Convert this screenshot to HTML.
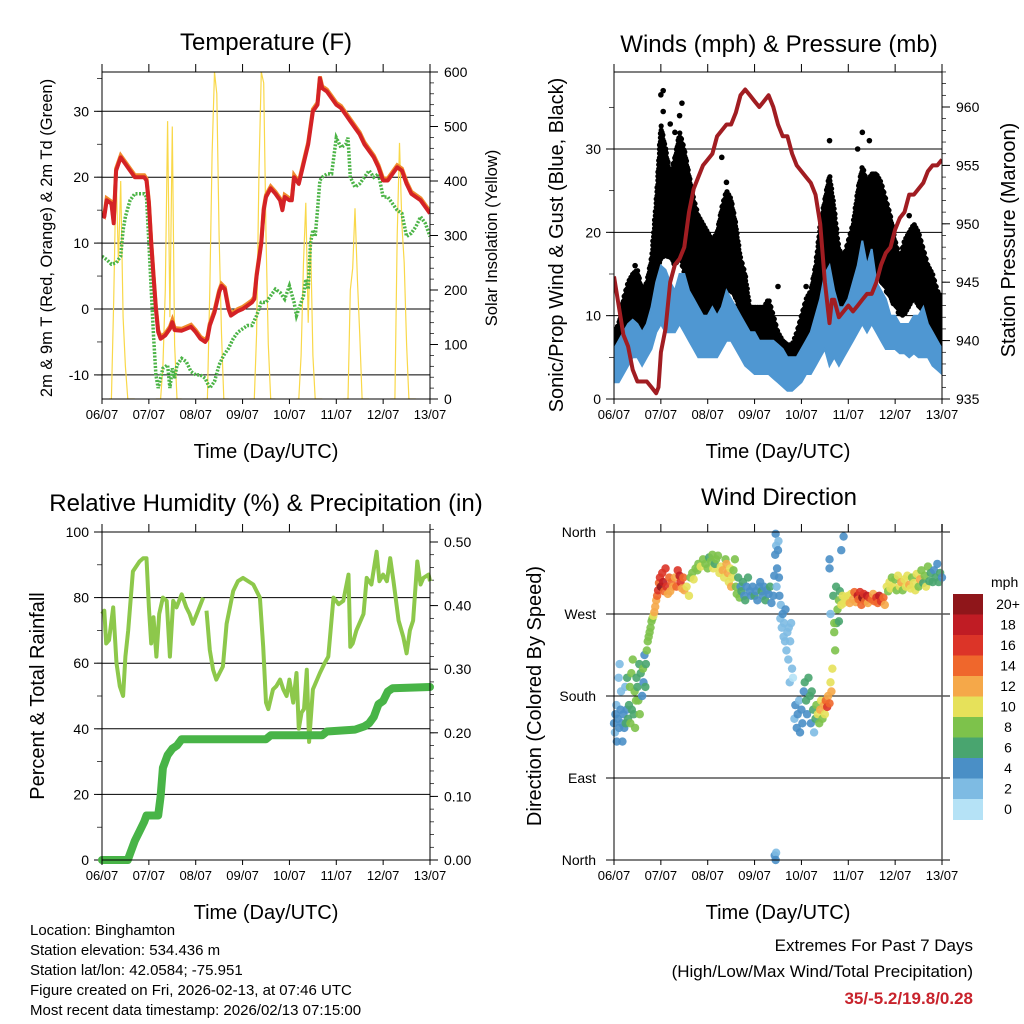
<!DOCTYPE html>
<html><head><meta charset="utf-8">
<style>
html,body{margin:0;padding:0;background:#fff;}
svg{display:block;font-family:"Liberation Sans",sans-serif;}
</style></head>
<body>
<svg id="fig" width="1024" height="1024" viewBox="0 0 1024 1024" xmlns="http://www.w3.org/2000/svg">
<rect width="1024" height="1024" fill="#fff"/>
<text x="266" y="50" font-size="24" text-anchor="middle">Temperature (F)</text>
<text x="779" y="52" font-size="24" text-anchor="middle">Winds (mph) &amp; Pressure (mb)</text>
<text x="266" y="511" font-size="24" text-anchor="middle">Relative Humidity (%) &amp; Precipitation (in)</text>
<text x="779" y="505" font-size="24" text-anchor="middle">Wind Direction</text>
<g font-size="15">
<text x="30" y="935">Location: Binghamton</text>
<text x="30" y="955">Station elevation: 534.436 m</text>
<text x="30" y="975">Station lat/lon: 42.0584; -75.951</text>
<text x="30" y="995">Figure created on Fri, 2026-02-13, at 07:46 UTC</text>
<text x="30" y="1015">Most recent data timestamp: 2026/02/13 07:15:00</text>
</g>
<g font-size="17" text-anchor="end">
<text x="973" y="951">Extremes For Past 7 Days</text>
<text x="973" y="977">(High/Low/Max Wind/Total Precipitation)</text>
<text x="973" y="1004" fill="#c8232c" font-weight="bold">35/-5.2/19.8/0.28</text>
</g>
</svg>
<script>
// ---------- DATA ----------
const dayLabels = ["06/07","07/07","08/07","09/07","10/07","11/07","12/07","13/07"];
const tempTime = [0,0.05,0.1,0.2,0.25,0.3,0.4,0.5,0.6,0.7,0.8,0.9,0.95,1.0,1.05,1.1,1.15,1.2,1.25,1.35,1.45,1.5,1.55,1.7,1.8,1.9,2.0,2.1,2.2,2.25,2.3,2.4,2.5,2.55,2.62,2.7,2.75,2.9,3.0,3.1,3.2,3.25,3.3,3.4,3.45,3.5,3.6,3.7,3.8,3.85,3.9,4.0,4.05,4.1,4.2,4.3,4.4,4.5,4.6,4.65,4.7,4.8,4.9,5.0,5.1,5.2,5.3,5.4,5.5,5.6,5.7,5.8,5.9,6.0,6.1,6.2,6.3,6.4,6.5,6.6,6.7,6.8,6.9,7.0];
const tempValues = [14.5,14,16.5,16,13,21,23,22,21,20,20,20,19.5,16,10,5,0,-3.5,-4.5,-4,-3,-2,-3.2,-3.3,-3,-2.7,-3.5,-4.5,-5,-4.5,-2.5,-0.5,2.5,3.5,3,0,-1,-0.3,0,0.5,1,1.5,5,10,15,17,18.3,17.5,16.5,15,17,16.5,16.5,20,19,22,25,30,31,35,33.5,33,32,31,30.5,29.5,28.5,27.5,26.5,25,24,23,21.5,19.5,19.5,20.5,21.5,21,19,17.5,17,16.5,15.5,14.5];
const dewTime = [0,0.1,0.2,0.3,0.4,0.45,0.5,0.6,0.7,0.8,0.9,0.95,1.0,1.05,1.1,1.15,1.2,1.3,1.4,1.45,1.5,1.55,1.6,1.7,1.8,1.9,2.0,2.1,2.2,2.3,2.4,2.5,2.6,2.7,2.8,2.9,3.0,3.1,3.2,3.3,3.4,3.5,3.6,3.7,3.8,3.9,4.0,4.1,4.15,4.2,4.3,4.35,4.4,4.45,4.5,4.55,4.6,4.65,4.7,4.8,4.9,5.0,5.1,5.2,5.25,5.3,5.4,5.5,5.6,5.7,5.8,5.9,6.0,6.1,6.2,6.3,6.4,6.5,6.6,6.7,6.8,6.9,7.0];
const dewValues = [8,7.5,6.8,7,8,12,14,16.5,17.5,17.5,17.5,17,10,3,-4,-10,-12,-9,-8.5,-12,-9,-10.5,-8.5,-7.5,-8,-9.5,-10,-10,-10.5,-12,-11,-8.5,-7,-6,-4.5,-3.5,-3,-2.5,-2.5,-1,1,1,2,3,2.5,1.5,3.5,1,-1,0,2,4.5,3,10,12,11,15,19.5,20,20.5,20.5,26,24.5,25,26,20,18.5,19,20,21,20,20.5,17,17,16,15,14.5,11,11.5,12.5,14,13,11];
const solarDayStart = [0,1,2,3,4,5,6];
const solarOffsets = [0.15,0.2,0.25,0.3,0.35,0.4,0.45,0.5,0.55,0.6,0.65,0.7];
const solarByDay = [
 [0,0,180,420,250,400,150,60,0,0,0,0],
 [0,0,0,60,200,510,150,500,100,0,0,0],
 [0,0,0,200,450,600,560,300,120,0,0,0],
 [0,0,0,120,420,600,580,300,100,0,0,0],
 [0,0,80,250,360,140,300,80,0,0,0,0],
 [0,0,0,200,240,350,220,120,0,0,0,0],
 [0,0,0,300,470,320,250,100,0,0,0,0]
];
const windTime = [0,0.1,0.2,0.3,0.4,0.5,0.6,0.7,0.8,0.9,1.0,1.1,1.2,1.3,1.4,1.5,1.6,1.7,1.8,1.9,2.0,2.1,2.2,2.3,2.4,2.5,2.6,2.7,2.8,2.9,3.0,3.1,3.2,3.3,3.4,3.5,3.6,3.7,3.8,3.9,4.0,4.1,4.2,4.3,4.4,4.5,4.6,4.7,4.8,4.9,5.0,5.1,5.2,5.3,5.4,5.5,5.6,5.7,5.8,5.9,6.0,6.1,6.2,6.3,6.4,6.5,6.6,6.7,6.8,6.9,7.0];
const windHi = [6,7,8,9,9.5,9,8,9,11,14,16,15.5,14,13,15,15,13,12,11,10,10,11,10,11,13,12,11,10,9,8,8,7,7,7,7,6.5,6,5,5,5,6,7,8,10,12,15,16,13,11,11,12,14,16,19,16,18,14,13,12,10,10,9,9,9,10,10,11,9,8,7,6];
const windLo = [2,2,3,4,5,5,4,5,6,8,9,8,8,8,9,8,7,6,5,5,5,5,5,6,7,7,6,5,4,3.5,3,3,3,3,2.5,2,1.5,1,1,1.5,2,3,3,4,5,6,4,5,4,5,6,7,8,9,8,9,8,7,6,6,6,5.5,5.5,5,5.5,5,5,5,4,3.5,3];
const gustHi = [8,9,12,14,15,15.5,13,14,17,24,33,30,27,29,32,30,27,24,22,21,20,19,20,23,25,24,21,17,15,11,11,11,11,12,10,8,7,6.5,6.5,8,10,12,13,16,21,24,27,23,18,17,19,21,25,28,26,27,27,26,24,22,19,17,19,20,21,20,18,16,15,13,12];
const gustLo = [4,5,6,8,9,9,7,8,10,13,17,17,17,16,17,15,13,12,10,10,10,10,10,11,13,13,12,10,8,6,6,6,6,6,5,4,3.5,3,3,4,5,6,7,8,10,12,12,10,10,10,11,13,15,16,17,16,15,14,13,12,11,10,10,11,12,11,10,9,8,7,6];
const gustOutT = [1.0,1.05,1.45,1.2,1.3,1.05,2.3,4.6,5.3,5.45,3.5,4.1,1.1,1.4,2.4,5.2,0.45,6.3];
const gustOutV = [36.5,37,35.5,33,32,34.5,29,31,32,31,13.5,13.5,30,34,26,30,16,22];
const presTime = [0,0.1,0.2,0.3,0.4,0.5,0.6,0.7,0.8,0.9,0.95,1.0,1.1,1.2,1.3,1.4,1.5,1.6,1.7,1.8,1.9,2.0,2.1,2.2,2.3,2.4,2.5,2.6,2.7,2.8,2.9,3.0,3.1,3.2,3.3,3.4,3.5,3.6,3.7,3.8,3.9,4.0,4.1,4.2,4.3,4.4,4.5,4.6,4.65,4.7,4.8,4.9,5.0,5.1,5.2,5.3,5.4,5.5,5.6,5.7,5.8,5.9,6.0,6.1,6.2,6.3,6.4,6.5,6.6,6.7,6.8,6.9,7.0];
const presValues = [945.5,943,940.5,939.5,937.5,936.5,936.5,936.5,936,935.5,936,939,941,945,946.5,947,948,951,953,954,955,955.5,956,957.5,958,958.5,958.5,959.5,961,961.5,961,960.5,960,960.5,961,960,958.5,957.5,957.5,956,955,954.5,954,953.5,952.5,950,945,941.5,943.5,943.5,942,942.5,943,942.5,943,943.5,944,944,945,946.5,947.5,948,949.5,950.5,951,952.5,952.5,953,953.5,954.5,955,955,955.5];
const rhTime = [0,0.05,0.09,0.15,0.24,0.31,0.38,0.45,0.5,0.56,0.66,0.8,0.88,0.95,1.0,1.05,1.1,1.16,1.22,1.3,1.38,1.45,1.52,1.59,1.7,1.8,1.87,1.94,2.05,2.16,2.23,2.3,2.37,2.44,2.51,2.58,2.66,2.8,2.9,3.01,3.23,3.37,3.44,3.5,3.55,3.65,3.72,3.8,3.87,3.94,4.0,4.08,4.15,4.2,4.26,4.31,4.37,4.42,4.5,4.65,4.75,4.83,4.94,5.05,5.15,5.26,5.3,5.35,5.43,5.58,5.65,5.75,5.86,5.92,6.0,6.08,6.15,6.22,6.33,6.43,6.5,6.57,6.64,6.73,6.8,6.86,6.97,7.0];
const rhValues = [75,76,66,67,77,60,53,50,62,70,88,91,92,92,77,66,74,62,75,80,79,62,79,77,81,77,75,72,76,80,76,64,58,55,57,59,72,82,85,86,84,80,65,48,46,52,53,55,52,50,55,48,57,40,45,46,58,36,52,57,60,62,80,78,79,87,65,66,70,75,86,84,94,85,87,85,92,85,73,68,63,70,73,91,84,86,87,85];
const rainTime = [0,0.55,0.6,0.7,0.8,0.9,0.95,1.2,1.25,1.3,1.4,1.5,1.6,1.7,1.8,3.5,3.6,4.7,4.8,5.4,5.6,5.7,5.8,5.9,6.0,6.1,6.2,7.0];
const rainValues = [0,0,0.01,0.03,0.045,0.06,0.07,0.07,0.1,0.145,0.165,0.175,0.18,0.19,0.19,0.19,0.196,0.196,0.202,0.205,0.21,0.215,0.225,0.245,0.25,0.265,0.27,0.272];
const wdTime = [0.00,0.02,0.03,0.05,0.06,0.08,0.10,0.11,0.12,0.14,0.15,0.17,0.18,0.2,0.22,0.24,0.25,0.27,0.28,0.3,0.32,0.34,0.35,0.37,0.38,0.4,0.42,0.44,0.45,0.47,0.48,0.5,0.52,0.54,0.55,0.57,0.6,0.62,0.63,0.65,0.67,0.68,0.7,0.72,0.74,0.76,0.78,0.8,0.82,0.84,0.86,0.88,0.9,0.92,0.94,0.96,0.98,1.0,1.03,1.05,1.07,1.1,1.12,1.15,1.18,1.2,1.23,1.26,1.3,1.33,1.36,1.4,1.42,1.45,1.48,1.5,1.55,1.6,1.63,1.67,1.7,1.74,1.78,1.8,1.85,1.9,1.95,2.0,2.03,2.07,2.1,2.12,2.15,2.18,2.22,2.25,2.28,2.32,2.35,2.38,2.4,2.43,2.45,2.48,2.5,2.52,2.55,2.58,2.6,2.62,2.65,2.68,2.7,2.72,2.75,2.78,2.8,2.83,2.86,2.9,2.93,2.96,3.0,3.03,3.06,3.1,3.12,3.15,3.18,3.2,3.23,3.26,3.3,3.33,3.36,3.4,3.42,3.44,3.45,3.46,3.47,3.48,3.5,3.51,3.52,3.53,3.55,3.56,3.58,3.6,3.62,3.63,3.65,3.66,3.68,3.7,3.72,3.73,3.75,3.76,3.78,3.8,3.82,3.85,3.87,3.9,3.92,3.95,3.97,4.0,4.02,4.05,4.07,4.1,4.12,4.15,4.18,4.2,4.22,4.25,4.27,4.3,4.32,4.35,4.38,4.4,4.42,4.45,4.48,4.5,4.52,4.55,4.57,4.6,4.62,4.64,4.66,4.68,4.7,4.72,4.74,4.75,4.77,4.8,4.82,4.85,4.88,4.9,4.93,4.96,5.0,5.03,5.06,5.1,5.13,5.16,5.2,5.22,5.25,5.28,5.3,5.33,5.36,5.4,5.42,5.45,5.5,5.53,5.56,5.6,5.63,5.66,5.7,5.75,5.78,5.82,5.85,5.88,5.9,5.93,5.96,6.0,6.03,6.06,6.1,6.13,6.16,6.2,6.23,6.26,6.3,6.33,6.36,6.4,6.43,6.46,6.5,6.53,6.56,6.6,6.63,6.66,6.7,6.73,6.76,6.8,6.83,6.86,6.9,6.93,6.96,7.0,3.43,3.46,3.45,4.85,4.9,4.6,4.6,4.62,4.7,4.8];
const wdDir = [150,140,160,170,130,155,200,145,215,165,185,150,130,160,145,190,150,165,200,155,170,190,150,205,165,220,160,185,145,175,200,190,175,215,160,205,180,210,195,225,190,215,230,240,245,250,255,262,265,268,272,278,285,290,296,304,310,300,315,305,295,320,300,292,310,295,305,300,310,300,318,312,305,298,310,296,300,290,310,315,308,320,318,325,322,330,325,320,332,328,335,320,325,330,334,315,322,318,310,330,325,315,305,320,300,310,318,330,300,292,310,288,300,295,305,290,285,300,310,295,290,300,290,295,285,300,305,295,290,300,285,296,292,300,282,290,312,335,358,345,300,320,340,350,310,290,265,280,255,270,245,260,240,275,230,250,220,255,195,240,260,210,200,155,170,145,160,175,140,165,150,185,195,175,160,200,180,150,185,165,140,155,170,160,150,165,175,155,170,160,175,168,180,172,195,185,210,290,250,230,300,260,275,285,295,280,290,282,288,285,290,282,292,286,294,283,290,286,294,280,288,292,284,290,282,288,286,292,284,288,282,290,284,288,280,300,295,305,298,310,300,308,296,312,300,305,296,308,300,312,302,298,310,304,296,314,300,308,318,304,312,300,322,306,315,305,318,310,325,305,315,310,5,8,0,340,355,330,320,270,260,262];
const wdSpd = [3,2,4,2,3,4,2,4,2,3,2,4,4,4,3,2,6,4,6,6,6,7,7,7,6,7,6,8,7,7,6,5,7,5,8,5,4,7,4,4,5,6,7,7,7,7,7,8,8,10,11,12,12,14,16,14,15,19,15,17,13,15,16,12,14,11,14,12,12,14,16,18,15,12,14,11,9,10,8,8,10,7,8,8,9,8,7,8,6,7,8,9,6,8,7,10,10,11,10,8,11,12,10,9,11,10,7,7,7,8,6,7,4,5,6,4,6,4,5,4,4,3,6,4,3,4,3,5,4,3,5,4,3,6,4,4,3,3,3,2,2,4,3,2,4,3,2,2,2,4,2,2,2,4,2,2,1,2,2,2,2,2,0,2,4,4,4,2,4,4,4,4,6,6,4,6,6,4,6,6,2,6,8,10,8,12,10,8,12,10,14,16,12,14,10,12,10,6,8,8,6,6,7,8,6,9,10,10,9,10,10,12,10,12,14,12,18,14,16,14,20,16,14,18,12,16,14,12,14,16,14,18,16,14,12,10,8,10,10,8,10,8,8,10,10,12,8,10,10,10,11,10,8,10,9,10,8,12,8,6,8,10,8,6,6,6,4,6,4,5,5,4,4,2,4,4,4,4,4,2,8,6];
const speedTicks = ["0","2","4","6","8","10","12","14","16","18","20+"];
const speedColors = ["#b5e2f6","#7ebbe3","#4a8fc6","#49a56f","#7dc24b","#e6e15a","#f5a849","#ef672c","#dc3428","#c01c24","#8f161a"];

// ---------- HELPERS ----------
const NS = "http://www.w3.org/2000/svg";
const svg = document.getElementById("fig");
function mk(tag, attrs, parent){
  const e = document.createElementNS(NS, tag);
  for (const k in attrs) e.setAttribute(k, attrs[k]);
  (parent||svg).appendChild(e);
  return e;
}
function lin(d0,d1,r0,r1){ return v => r0 + (v-d0)*(r1-r0)/(d1-d0); }
function linePath(xs, ys, sx, sy){
  let d=""; for(let i=0;i<xs.length;i++){ d += (i?"L":"M")+sx(xs[i]).toFixed(1)+","+sy(ys[i]).toFixed(1); } return d;
}
function interp(xs, ys, t){
  for(let i=1;i<xs.length;i++){ if(t<=xs[i]){ const f=(t-xs[i-1])/(xs[i]-xs[i-1]); return ys[i-1]+f*(ys[i]-ys[i-1]); } }
  return ys[ys.length-1];
}

const X0=102, X1=430;
const sxL = lin(0,7,X0,X1);
const X0R=614, X1R=942;
const sxR = lin(0,7,X0R,X1R);

function frame(x0,x1,y0,y1,name){
  const r = mk("rect",{x:x0,y:y0,width:x1-x0,height:y1-y0,fill:"none",stroke:"#000","stroke-width":1});
  
  
}
function xAxis(sx,y0,y1,name,titleY){
  const g = mk("g",{});
  
  
  dayLabels.forEach((lab,i)=>{
    const x = sx(i);
    mk("line",{x1:x,y1:y1,x2:x,y2:y1+5,stroke:"#000"},g);
    mk("line",{x1:x,y1:y0,x2:x,y2:y0-8,stroke:"#000"},g);
    const t = mk("text",{x:x,y:y1+20,"font-size":13,"text-anchor":"middle"},g);
    t.textContent = lab;
    
    
  });
  if(titleY){
    const t = mk("text",{x:(sx(0)+sx(7))/2,y:titleY,"font-size":20,"text-anchor":"middle"});
    t.textContent = "Time (Day/UTC)";
    
    
  }
}
function yAxisLeft(x0,x1,sy,ticks,labels,minor,name,grid){
  const g = mk("g",{});
  
  
  minor.forEach(v=>{ mk("line",{x1:x0,y1:sy(v),x2:x0-5,y2:sy(v),stroke:"#000","stroke-width":0.7},g); });
  ticks.forEach((v,i)=>{
    const y = sy(v);
    if(grid) mk("line",{x1:x0,y1:y,x2:x1,y2:y,stroke:"#000","stroke-width":1},g);
    mk("line",{x1:x0-8,y1:y,x2:x0,y2:y,stroke:"#000"},g);
    const t = mk("text",{x:x0-13,y:y+5,"font-size":14,"text-anchor":"end"},g);
    t.textContent = labels[i];
    
    
  });
}
function yAxisRight(x1,sy,ticks,labels,minor,name){
  const g = mk("g",{});
  
  
  minor.forEach(v=>{ mk("line",{x1:x1,y1:sy(v),x2:x1+4,y2:sy(v),stroke:"#000","stroke-width":0.7},g); });
  ticks.forEach((v,i)=>{
    const y = sy(v);
    mk("line",{x1:x1,y1:y,x2:x1+8,y2:y,stroke:"#000"},g);
    const t = mk("text",{x:x1+14,y:y+5,"font-size":14},g);
    t.textContent = labels[i];
    
    
  });
}
function vTitle(x,y,txt,name,size){
  const t = mk("text",{x:x,y:y,"font-size":size||17,"text-anchor":"middle",transform:`rotate(-90 ${x} ${y})`});
  t.textContent = txt;
  
  
}
function range(a,b,s){ const r=[]; for(let v=a; v<=b+1e-9; v+=s) r.push(+v.toFixed(4)); return r; }

// ---------- PANEL 1: TEMPERATURE ----------
(function(){
  const y0=72,y1=399;
  const syS = lin(0,600,y1,y0);
  const clip = mk("clipPath",{id:"c1"}); mk("rect",{x:X0,y:y0,width:X1-X0,height:y1-y0},clip);
  const syT = v => 309 - v*6.59;
  yAxisLeft(X0,X1,syT,[-10,0,10,20,30],["-10","0","10","20","30"],range(-10,35,5),"temperature",true);
  yAxisRight(X1,syS,[0,100,200,300,400,500,600],["0","100","200","300","400","500","600"],range(0,600,20),"solar");
  const g = mk("g",{"clip-path":"url(#c1)"});
  
  
  solarByDay.forEach((vals,di)=>{
    const xs = solarOffsets.map(o=>solarDayStart[di]+o);
    const p = mk("path",{d:linePath(xs,vals,sxL,syS),fill:"none",stroke:"#f9d849","stroke-width":1.2},g);
    
    
  });
  const pd = mk("path",{d:linePath(dewTime,dewValues,sxL,syT),fill:"none",stroke:"#4cb447","stroke-width":3.5,"stroke-dasharray":"2 1.5"},g);
  
  
  const po = mk("path",{d:linePath(tempTime,tempValues.map(v=>v+0.3),sxL,syT),fill:"none",stroke:"#f08a2c","stroke-width":4},g);
  
  
  const pr = mk("path",{d:linePath(tempTime,tempValues,sxL,syT),fill:"none",stroke:"#d42226","stroke-width":4,"stroke-linejoin":"round"},g);
  
  
  frame(X0,X1,y0,y1,"temperature");
  xAxis(sxL,y0,y1,"temperature",458);
  vTitle(52,238,"2m & 9m T (Red, Orange) & 2m Td (Green)","temperature-y-axis-title",16.5);
  vTitle(497,238,"Solar Insolation (Yellow)","solar-y-axis-title",16.5);
})();

// ---------- PANEL 2: WINDS ----------
(function(){
  const y0=72,y1=399;
  const sy = lin(0,30,y1,149);
  const syP = lin(935,960,y1,107);
  const clip = mk("clipPath",{id:"c2"}); mk("rect",{x:X0R,y:y0,width:X1R-X0R,height:y1-y0},clip);
  yAxisLeft(X0R,X1R,sy,[0,10,20,30],["0","10","20","30"],range(0,35,5),"wind",true);
  yAxisRight(X1R,syP,[935,940,945,950,955,960],["935","940","945","950","955","960"],range(935,963,1),"pressure");
  const g = mk("g",{"clip-path":"url(#c2)"});
  
  
  // gust dots filling the envelope
  for(let t=0; t<=7.0001; t+=0.018){
    const hi = sy(interp(windTime,gustHi,t)), lo = sy(interp(windTime,gustLo,t));
    const k = Math.round(t/0.018);
    for(let y=hi + (k%2)*2; y<=lo; y+=4.2){
      const c = mk("circle",{cx:sxR(t).toFixed(1),cy:y.toFixed(1),r:2.6,fill:"#000"},g);
      
      
    }
  }
  gustOutT.forEach((t,i)=>{
    const c = mk("circle",{cx:sxR(t),cy:sy(gustOutV[i]),r:2.8,fill:"#000"},g);
    
    
  });
  let d2 = linePath(windTime,windHi,sxR,sy);
  for(let i=windTime.length-1;i>=0;i--) d2 += "L"+sxR(windTime[i]).toFixed(1)+","+sy(windLo[i]).toFixed(1);
  const wb = mk("path",{d:d2+"Z",fill:"#4f97d2",stroke:"#4f97d2","stroke-width":2},g);
  
  
  const pp = mk("path",{d:linePath(presTime,presValues,sxR,syP),fill:"none",stroke:"#a11d22","stroke-width":4,"stroke-linejoin":"round"},g);
  
  
  frame(X0R,X1R,y0,y1,"winds");
  xAxis(sxR,y0,y1,"winds",458);
  vTitle(563,245,"Sonic/Prop Wind & Gust (Blue, Black)","wind-y-axis-title",20);
  vTitle(1015,240,"Station Pressure (Maroon)","pressure-y-axis-title",20);
})();

// ---------- PANEL 3: RH ----------
(function(){
  const y0=532,y1=860;
  const sy = lin(0,100,y1,y0);
  const syR = lin(0,0.5,y1,542);
  const clip = mk("clipPath",{id:"c3"}); mk("rect",{x:X0-6,y:y0,width:X1-X0+12,height:y1-y0+6},clip);
  yAxisLeft(X0,X1,sy,[0,20,40,60,80,100],["0","20","40","60","80","100"],range(0,100,10),"humidity",true);
  yAxisRight(X1,syR,[0,0.1,0.2,0.3,0.4,0.5],["0.00","0.10","0.20","0.30","0.40","0.50"],range(0,0.52,0.02),"precip");
  const g = mk("g",{"clip-path":"url(#c3)"});
  
  
  const i1 = rhTime.findIndex(t=>t>=2.16)+1;
  [[0,i1],[i1,rhTime.length]].forEach(([a,b])=>{
    const p = mk("path",{d:linePath(rhTime.slice(a,b),rhValues.slice(a,b),sxL,sy),fill:"none",stroke:"#8dc84b","stroke-width":4,"stroke-linejoin":"round"},g);
    
    
  });
  const pr = mk("path",{d:linePath(rainTime,rainValues,sxL,syR),fill:"none",stroke:"#48b447","stroke-width":8,"stroke-linejoin":"round","stroke-linecap":"round"},g);
  
  
  frame(X0,X1,y0,y1,"humidity");
  xAxis(sxL,y0,y1,"humidity",919);
  vTitle(44,696,"Percent & Total Rainfall","humidity-y-axis-title",20);
})();

// ---------- PANEL 4: WIND DIRECTION ----------
(function(){
  const y0=532,y1=860;
  const sy = lin(0,360,y1,y0);
  const g0 = mk("g",{});
  
  
  const dirTicks=[0,90,180,270,360], dirLabels=["North","East","South","West","North"];
  dirTicks.forEach((v,i)=>{
    const y=sy(v);
    mk("line",{x1:606,y1:y,x2:950,y2:y,stroke:"#000"},g0);
    const t = mk("text",{x:596,y:y+5,"font-size":14,"text-anchor":"end"},g0);
    t.textContent = dirLabels[i];
    
    
  });
  const g = mk("g",{});
  
  
  wdTime.forEach((t,i)=>{
    const ci = Math.min(10, Math.round(wdSpd[i]/2));
    const c = mk("circle",{cx:sxR(t),cy:sy(wdDir[i]),r:4.2,fill:speedColors[ci],"fill-opacity":0.9},g);
    
    
  });
  frame(X0R,X1R,y0,y1,"direction");
  mk("line",{x1:X1R,y1:y0-8,x2:X1R,y2:y1,stroke:"#555","stroke-width":1.5});
  xAxis(sxR,y0,y1,"direction",919);
  vTitle(541,696,"Direction (Colored By Speed)","direction-y-axis-title",20);
  // colorbar
  const cb = mk("g",{});
  
  
  const cbTop=594, cbH=20.5;
  for(let k=0;k<11;k++){
    const idx = 10-k;
    const r = mk("rect",{x:953,y:cbTop+k*cbH,width:30,height:cbH+0.5,fill:speedColors[idx]},cb);
    
    
    const t = mk("text",{x:1008,y:cbTop+k*cbH+15,"font-size":14,"text-anchor":"middle"},cb);
    t.textContent = speedTicks[idx];
    
    
  }
  const u = mk("text",{x:991,y:587,"font-size":14},cb);
  u.textContent = "mph";
  
  
})();
</script>
</body></html>
